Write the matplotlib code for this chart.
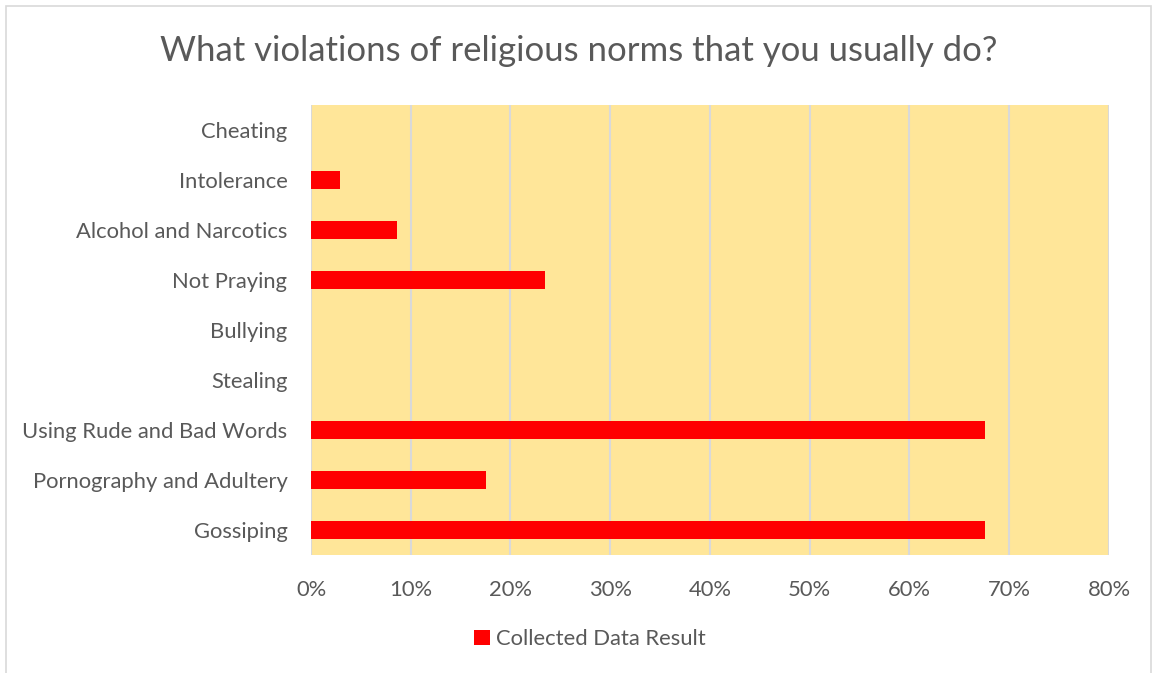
import matplotlib.pyplot as plt
from matplotlib.patches import Rectangle
from matplotlib.ticker import PercentFormatter

categories = ["Gossiping", "Pornography and Adultery", "Using Rude and Bad Words",
              "Stealing", "Bullying", "Not Praying", "Alcohol and Narcotics",
              "Intolerance", "Cheating"]
values = [67.6, 17.5, 67.6, 0, 0, 23.5, 8.6, 2.9, 0]
xticks = [0, 10, 20, 30, 40, 50, 60, 70, 80]

plt.rcParams["font.family"] = ["Lato", "DejaVu Sans"]
text_col = "#595959"

fig = plt.figure(figsize=(11.57, 6.73), dpi=100)
ax = fig.add_axes([0.2688, 0.1753, 0.9585 - 0.2688, 0.844 - 0.1753])
ax.set_facecolor("#FFE699")

ax.barh(categories, values, height=0.36, color="#FF0000", zorder=3,
        label="Collected Data Result")

ax.set_xlim(0, 80)
ax.set_ylim(-0.5, len(categories) - 0.5)
ax.set_xticks(xticks)
ax.xaxis.set_major_formatter(PercentFormatter(decimals=0))
ax.grid(axis="x", color="#D9D9D9", linewidth=1.5, zorder=0)
ax.set_axisbelow(True)
for s in ax.spines.values():
    s.set_visible(False)
ax.tick_params(length=0, labelsize=15.8, colors=text_col)
ax.tick_params(axis="y", pad=17)
ax.tick_params(axis="x", pad=18)

fig.suptitle("What violations of religious norms that you usually do?",
             x=0.5, y=0.948, fontsize=25, color=text_col)

leg = fig.legend(loc="center", bbox_to_anchor=(0.51, 0.05), frameon=False,
                 fontsize=15.8, handlelength=0.7, handleheight=0.7,
                 handletextpad=0.3)
for t in leg.get_texts():
    t.set_color(text_col)

fig.patches.append(Rectangle((6 / 1157, -0.01), 1145 / 1157, 1 - 6 / 673 + 0.01,
                             transform=fig.transFigure, fill=False,
                             edgecolor="#D9D9D9", linewidth=1.2))

fig.savefig("out.png", dpi=100, facecolor="white")
